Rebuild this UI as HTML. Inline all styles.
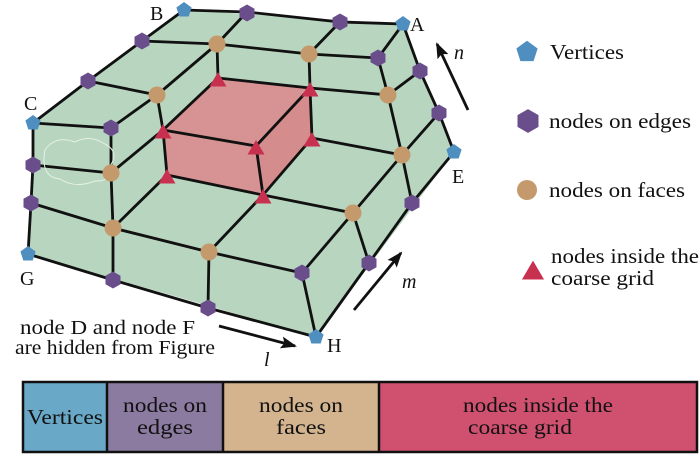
<!DOCTYPE html>
<html><head><meta charset="utf-8"><style>
body{margin:0;background:#fff;}
svg{display:block;font-family:"Liberation Serif",serif;}
</style></head><body>
<svg width="700" height="462" viewBox="0 0 700 462" xmlns="http://www.w3.org/2000/svg">
<defs>
<marker id="ar" markerWidth="16" markerHeight="12" refX="14" refY="6" orient="auto" markerUnits="userSpaceOnUse">
<path d="M0,0 L16,6 L0,12 L3,6 Z" fill="#111"/></marker>
<g id="pv"><polygon points="0,-8 7.6,-2.5 4.7,6.5 -4.7,6.5 -7.6,-2.5" fill="#4f8fbf"/></g>
<g id="hx"><polygon points="0,-8.5 7.5,-4.2 7.5,4.2 0,8.5 -7.5,4.2 -7.5,-4.2" fill="#6a4e8c"/></g>
<g id="ci"><circle r="8.5" fill="#c49a6c"/></g>
<g id="tr"><polygon points="0,-8 8.5,6.5 -8.5,6.5" fill="#c83050"/></g>
</defs>
<polygon points="184,10 403,24 420,71 439,113 454,152 316,337 28,254 33,123" fill="#b7d5bf"/>
<polygon points="163,130 218,78 310,88 312,138 263,195 167,175" fill="#d79393"/>
<polygon points="256,146 310,88 312,138 263,195" fill="#d48c8c"/>
<g stroke="#111" stroke-width="2.8" fill="none" stroke-linejoin="round">
<polyline points="184,10 247,12 340,22 403,24 420,71 439,113 454,152 412,203 369,263 316,337 208,308 113,280 28,254 31,203 33,165 33,123 88,81 142,41 184,10"/>
<polyline points="142,41 217,44 309,54 378,58"/>
<polyline points="88,81 157,95"/>
<polyline points="218,78 310,88 388,95"/>
<polyline points="33,123 111,128"/>
<polyline points="33,165 111,173"/>
<polyline points="163,130 256,146"/>
<polyline points="312,138 402,155"/>
<polyline points="167,175 263,195 353,213"/>
<polyline points="31,203 113,228 209,252 302,273"/>
<polyline points="111,128 157,95 217,44 247,12"/>
<polyline points="309,54 340,22"/>
<polyline points="388,95 420,71"/>
<polyline points="111,173 163,130 218,78"/>
<polyline points="256,146 310,88"/>
<polyline points="113,228 167,175"/>
<polyline points="209,252 263,195 312,138"/>
<polyline points="302,273 353,213 402,155 439,113"/>
<polyline points="403,24 378,58 388,95 402,155 412,203"/>
<polyline points="353,213 369,263"/>
<polyline points="302,273 316,337"/>
<polyline points="209,252 208,308"/>
<polyline points="111,128 111,173 113,228 113,280"/>
<polyline points="157,95 163,130 167,175"/>
<polyline points="217,44 218,78"/>
<polyline points="309,54 310,88 312,138"/>
<polyline points="256,146 263,195"/>
</g>
<path d="M45,150 q10,-15 30,-8 q15,-8 30,2 q15,8 5,22 q5,15 -15,15 q-20,8 -35,-2 q-20,-2 -15,-29z" fill="none" stroke="#e6f0e6" stroke-width="1"/>
<use href="#pv" x="184" y="10"/><use href="#pv" x="403" y="24"/><use href="#pv" x="33" y="123"/>
<use href="#pv" x="454" y="152"/><use href="#pv" x="28" y="254"/><use href="#pv" x="316" y="337"/>
<use href="#hx" x="247" y="13"/><use href="#hx" x="340" y="22"/><use href="#hx" x="142" y="41"/>
<use href="#hx" x="378" y="58"/><use href="#hx" x="88" y="81"/><use href="#hx" x="420" y="71"/>
<use href="#hx" x="111" y="128"/><use href="#hx" x="439" y="113"/><use href="#hx" x="33" y="165"/>
<use href="#hx" x="31" y="203"/><use href="#hx" x="412" y="203"/><use href="#hx" x="302" y="273"/>
<use href="#hx" x="369" y="263"/><use href="#hx" x="113" y="280"/><use href="#hx" x="208" y="308"/>
<use href="#ci" x="217" y="44"/><use href="#ci" x="309" y="54"/><use href="#ci" x="157" y="95"/>
<use href="#ci" x="388" y="95"/><use href="#ci" x="402" y="155"/><use href="#ci" x="111" y="173"/>
<use href="#ci" x="353" y="213"/><use href="#ci" x="113" y="228"/><use href="#ci" x="209" y="252"/>
<use href="#tr" x="218" y="80"/><use href="#tr" x="310" y="90"/><use href="#tr" x="163" y="132"/>
<use href="#tr" x="256" y="148"/><use href="#tr" x="312" y="140"/><use href="#tr" x="167" y="177"/>
<use href="#tr" x="263" y="197"/>
<g font-size="20" fill="#111">
<text x="150" y="20">B</text><text x="410" y="31">A</text><text x="24" y="110">C</text>
<text x="452" y="183">E</text><text x="20" y="285">G</text><text x="327" y="352">H</text>
<text x="454" y="59" font-style="italic">n</text><text x="402" y="288" font-style="italic">m</text>
<text x="264" y="366" font-style="italic">l</text>
<text x="20" y="334" textLength="175" lengthAdjust="spacingAndGlyphs">node D and node F</text>
<text x="15" y="354" textLength="200" lengthAdjust="spacingAndGlyphs">are hidden from Figure</text>
</g>
<g stroke="#111" stroke-width="2.8">
<line x1="468" y1="110" x2="437" y2="44" marker-end="url(#ar)"/>
<line x1="354" y1="310" x2="401" y2="253" marker-end="url(#ar)"/>
<line x1="219" y1="326" x2="295" y2="346" marker-end="url(#ar)"/>
</g>
<g transform="translate(527,52) scale(1.4)"><use href="#pv"/></g>
<g transform="translate(528,121) scale(1.4)"><use href="#hx"/></g>
<circle cx="527" cy="190" r="10" fill="#c49a6c"/>
<g transform="translate(533,271) scale(1.3)"><use href="#tr"/></g>
<g font-size="21" fill="#111">
<text x="550" y="59" textLength="74" lengthAdjust="spacingAndGlyphs">Vertices</text>
<text x="549" y="128" textLength="142" lengthAdjust="spacingAndGlyphs">nodes on edges</text>
<text x="549" y="197" textLength="136" lengthAdjust="spacingAndGlyphs">nodes on faces</text>
<text x="551" y="263" textLength="148" lengthAdjust="spacingAndGlyphs">nodes inside the</text>
<text x="551" y="285" textLength="103" lengthAdjust="spacingAndGlyphs">coarse grid</text>
</g>
<rect x="23" y="382" width="84" height="70" fill="#6aa8c8"/>
<rect x="107" y="382" width="116" height="70" fill="#8c7ba0"/>
<rect x="223" y="382" width="156" height="70" fill="#d4b48f"/>
<rect x="379" y="382" width="318" height="70" fill="#d05070"/>
<g stroke="#111" stroke-width="2.5" fill="none">
<rect x="23" y="382" width="674" height="70"/>
<line x1="107" y1="382" x2="107" y2="452"/><line x1="223" y1="382" x2="223" y2="452"/><line x1="379" y1="382" x2="379" y2="452"/>
</g>
<g font-size="21" fill="#111" text-anchor="middle">
<text x="65" y="424" textLength="76" lengthAdjust="spacingAndGlyphs">Vertices</text>
<text x="165" y="412" textLength="84" lengthAdjust="spacingAndGlyphs">nodes on</text><text x="165" y="434" textLength="56" lengthAdjust="spacingAndGlyphs">edges</text>
<text x="301" y="412" textLength="84" lengthAdjust="spacingAndGlyphs">nodes on</text><text x="301" y="434" textLength="50" lengthAdjust="spacingAndGlyphs">faces</text>
<text x="538" y="412" textLength="150" lengthAdjust="spacingAndGlyphs">nodes inside the</text><text x="520" y="434" textLength="104" lengthAdjust="spacingAndGlyphs">coarse grid</text>
</g>
</svg>
</body></html>
